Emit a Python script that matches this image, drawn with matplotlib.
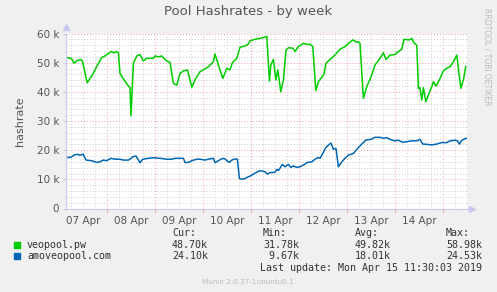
import numpy as np
import matplotlib
matplotlib.use("Agg")
import matplotlib.pyplot as plt
from matplotlib.ticker import MultipleLocator, FixedLocator, NullFormatter

# hours relative to 08 Apr 00:00, hashrate values
veo_t = [-20.2, -17.7, -16.5, -14.9, -13, -12.2, -9.9, -6.9, -5.2, -2.7, -1, 2, 3.5, 4.9, 5.7,
         6.5, 8.5, 10.7, 11.5, 12, 13.2, 14.9, 16.5, 18.2, 19.9, 23.2, 24, 25.7, 27.4, 28.5,
         29.9, 31.5, 33.2, 34.9, 36.5, 38.2, 40.2, 41.5, 42.4, 44, 46.5, 48.5, 50.7, 51.9, 53.2,
         54, 55.7, 57.9, 59.9, 61.5, 62.7, 64.9, 66.5, 69, 70.7, 71.5, 74, 76.5, 79.9, 81.2,
         81.9, 83.2, 84.4, 85.4, 86.9, 88.2, 89.5, 90.7, 92.9, 94, 95.7, 98.2, 99.9, 101.5, 102.9,
         104.4, 105.7, 107.4, 108.5, 109.5, 111.5, 114, 116.5, 119, 120.7, 122.9, 124.9, 125.7, 126.5,
         128.2, 129.9, 132.4, 134, 136.5, 138.2, 139.5, 141.5, 144, 145.7, 147.4, 148.5, 151.2, 152.4,
         153.5, 154.9, 155.7, 156.5, 157.4, 158.2, 159.4, 160.7, 162.4, 163.2, 164.5, 166.2, 168.2,
         169.9, 171.5, 173.2, 174.9, 176.9, 178.2, 179.4]
veo_v = [51.8, 51.4, 49.8, 50.7, 51.1, 50.3, 43.1, 46.3, 48.6, 51.7, 52.3, 53.8, 53.4, 53.8, 53.4,
         46.3, 44.1, 42.0, 41.5, 31.8, 49.8, 52.3, 52.8, 50.6, 51.5, 51.5, 52.3, 52.0, 52.3, 51.5,
         50.6, 50.1, 42.9, 42.3, 46.3, 47.2, 47.5, 44.1, 41.5, 44.1, 46.9, 47.7, 48.6, 49.4, 50.3,
         53.0, 49.2, 44.6, 48.1, 47.5, 50.0, 51.5, 55.3, 55.7, 56.4, 57.5, 58.0, 58.3, 58.98, 43.7,
         49.2, 51.1, 44.1, 47.5, 40.0, 44.1, 54.3, 55.1, 55.0, 53.8, 55.5, 56.6, 56.3, 56.3, 55.5,
         40.4, 43.5, 45.0, 46.1, 49.8, 51.1, 52.6, 54.6, 55.5, 56.6, 57.8, 57.0, 57.2, 56.6,
         37.8, 41.8, 45.8, 49.2, 51.5, 53.4, 51.1, 52.6, 52.8, 53.8, 54.6, 58.0, 57.8, 58.3,
         56.8, 56.0, 41.2, 41.4, 37.2, 41.4, 36.6, 38.9, 41.8, 43.5, 42.0, 44.1, 47.2,
         48.1, 48.6, 50.3, 52.6, 41.2, 44.1, 48.7]

amo_t = [-20.2, -18.2, -16.5, -14.9, -13.5, -11.9, -10.5, -7.7, -5.2, -3.5, -1.9, -0.2, 2, 4,
         6.5, 8.2, 10.7, 13.2, 14.5, 15.2, 16.5, 17.9, 20.7, 23.2, 26.5, 29.9, 32.4, 34, 38.2, 39,
         40.7, 42.4, 44.9, 46.5, 49, 51.2, 53.2, 54, 55.7, 57.9, 59, 59.9, 61.2, 62.4, 64, 65.2,
         66.2, 67.4, 69, 70.7, 71.5, 74, 76.5, 79, 80.2, 81.5, 84, 84.9, 85.7, 87.7, 89, 90.7, 91.9,
         93.2, 94.9, 96.5, 98.2, 100.2, 102.4, 104, 105.7, 106.5, 107.9, 109.5, 111.2, 112, 113.2,
         114.5, 115.7, 117.4, 119, 120.7, 123.2, 124.9, 127.4, 129.5, 131.9, 134, 136.5, 138.2, 139.9,
         141.5, 144, 145.7, 147.9, 149.9, 152.4, 154.9, 156.5, 157.9, 159.9, 162.4, 164.9, 167.4,
         169.9, 171.5, 174, 175.2, 176.2, 177.4, 179.5]
amo_v = [17.5, 17.5, 18.3, 18.6, 18.3, 18.6, 16.6, 16.4, 15.8, 16.0, 16.6, 16.4, 17.2, 16.9,
         16.9, 16.6, 16.6, 17.8, 18.0, 17.2, 15.7, 16.9, 17.2, 17.4, 17.2, 16.9, 16.9, 17.2, 17.2, 15.8,
         15.8, 16.4, 16.9, 16.9, 16.6, 17.0, 17.2, 15.7, 16.4, 17.2, 17.0, 16.4, 15.8, 16.6, 17.0, 16.9,
         10.3, 10.0, 10.3, 10.9, 11.1, 12.1, 13.0, 12.6, 11.8, 12.3, 12.4, 13.4, 13.0, 15.1, 14.3, 15.1, 14.1,
         14.6, 14.1, 14.3, 14.9, 15.8, 16.0, 16.9, 17.5, 17.2, 18.9, 21.0, 22.0, 22.4, 20.3,
         20.6, 14.3, 16.0, 17.2, 18.3, 18.9, 20.3, 22.1, 23.5, 23.7, 24.4, 24.4, 24.1, 24.3,
         23.7, 23.2, 23.4, 22.7, 22.9, 23.2, 23.2, 23.7, 22.1, 22.0, 21.8, 22.1, 22.6,
         22.6, 23.2, 23.4, 23.2, 22.1, 23.4, 24.1]

day_labels = ["07 Apr", "08 Apr", "09 Apr", "10 Apr", "11 Apr", "12 Apr", "13 Apr", "14 Apr"]
y_ticks = [0, 10, 20, 30, 40, 50, 60]
y_labels = ["0", "10 k", "20 k", "30 k", "40 k", "50 k", "60 k"]

series_names = ["veopool.pw", "amoveopool.com"]
series_colors = ["#00CC00", "#0066B3"]
cur_vals = ["48.70k", "24.10k"]
min_vals = ["31.78k", " 9.67k"]
avg_vals = ["49.82k", "18.01k"]
max_vals = ["58.98k", "24.53k"]

W, H = 497, 292
fig = plt.figure(figsize=(W / 100, H / 100), dpi=100, facecolor="#F0F0F0")
ax = fig.add_axes([66 / W, 1 - 208.5 / H, 402 / W, 175 / H])
ax.set_facecolor("white")

ax.set_xlim(-20.5, 180.5)
ax.set_ylim(0, 60)

# grid
ax.xaxis.set_major_locator(MultipleLocator(24))
ax.xaxis.set_minor_locator(MultipleLocator(6))
ax.yaxis.set_major_locator(FixedLocator(y_ticks))
ax.yaxis.set_minor_locator(MultipleLocator(2))
ax.grid(which="minor", color="#CCCCCC", linestyle=(0, (1, 2)), linewidth=0.7)
ax.grid(which="major", color="#F0A0A0", linestyle=(0, (1, 2)), linewidth=0.7)
ax.set_axisbelow(True)
ax.xaxis.set_major_formatter(NullFormatter())
ax.set_yticklabels(y_labels)
ax.tick_params(axis="y", which="major", length=2, color="#C8C8F0", labelsize=7.5,
               labelcolor="#555555", pad=3)
ax.tick_params(axis="x", which="major", length=2, color="#F0A0A0", pad=3)
ax.tick_params(which="minor", length=0)

# day labels sit at noon of each day
for i, lab in enumerate(day_labels):
    ax.text(-12 + 24 * i, -2.6, lab, ha="center", va="top", fontsize=7.5, color="#555555")

for s in ["top", "right"]:
    ax.spines[s].set_visible(False)
for s in ["left", "bottom"]:
    ax.spines[s].set_color("#C8C8F0")
    ax.spines[s].set_linewidth(0.8)
ax.plot(0, 1.035, marker="^", color="#C8C8F0", markersize=4, transform=ax.transAxes, clip_on=False)
ax.plot(1.01, 0, marker=">", color="#C8C8F0", markersize=4, transform=ax.transAxes, clip_on=False)

ax.plot(veo_t, veo_v, color=series_colors[0], linewidth=1.1)
ax.plot(amo_t, amo_v, color=series_colors[1], linewidth=1.1)

ax.set_ylabel("hashrate", fontsize=8, color="#555555", labelpad=8)

fig.text(248 / W, 1 - 12 / H, "Pool Hashrates - by week", ha="center", va="center",
         fontsize=9.5, color="#555555")
fig.text(487 / W, 1 - 57 / H, "RRDTOOL / TOBI OETIKER", rotation=270, ha="center", va="center",
         fontsize=5.5, color="#BBBBBB")

# legend table
mono = dict(family="DejaVu Sans Mono", fontsize=7.2, color="#333333", va="center")
hdr_x = [172, 263, 355, 446]
end_x = [208, 299, 391, 482]
for x, h in zip(hdr_x, ["Cur:", "Min:", "Avg:", "Max:"]):
    fig.text(x / W, 1 - 233.5 / H, h, ha="left", **mono)
rows = [245, 256]
for r, y in enumerate(rows):
    fig.patches.append(plt.Rectangle((14 / W, 1 - (y + 3) / H), 6 / W, 6 / H,
                                     transform=fig.transFigure, color=series_colors[r]))
    fig.text(27 / W, 1 - y / H, series_names[r], ha="left", **mono)
    for x, v in zip(end_x, [cur_vals[r], min_vals[r], avg_vals[r], max_vals[r]]):
        fig.text(x / W, 1 - y / H, v, ha="right", **mono)
fig.text(482 / W, 1 - 268 / H, "Last update: Mon Apr 15 11:30:03 2019", ha="right", **mono)
fig.text(248 / W, 1 - 282 / H, "Munin 2.0.37-1ubuntu0.1", ha="center", va="center",
         fontsize=5.2, color="#BBBBBB")

fig.savefig("out.png", dpi=100, facecolor=fig.get_facecolor())
